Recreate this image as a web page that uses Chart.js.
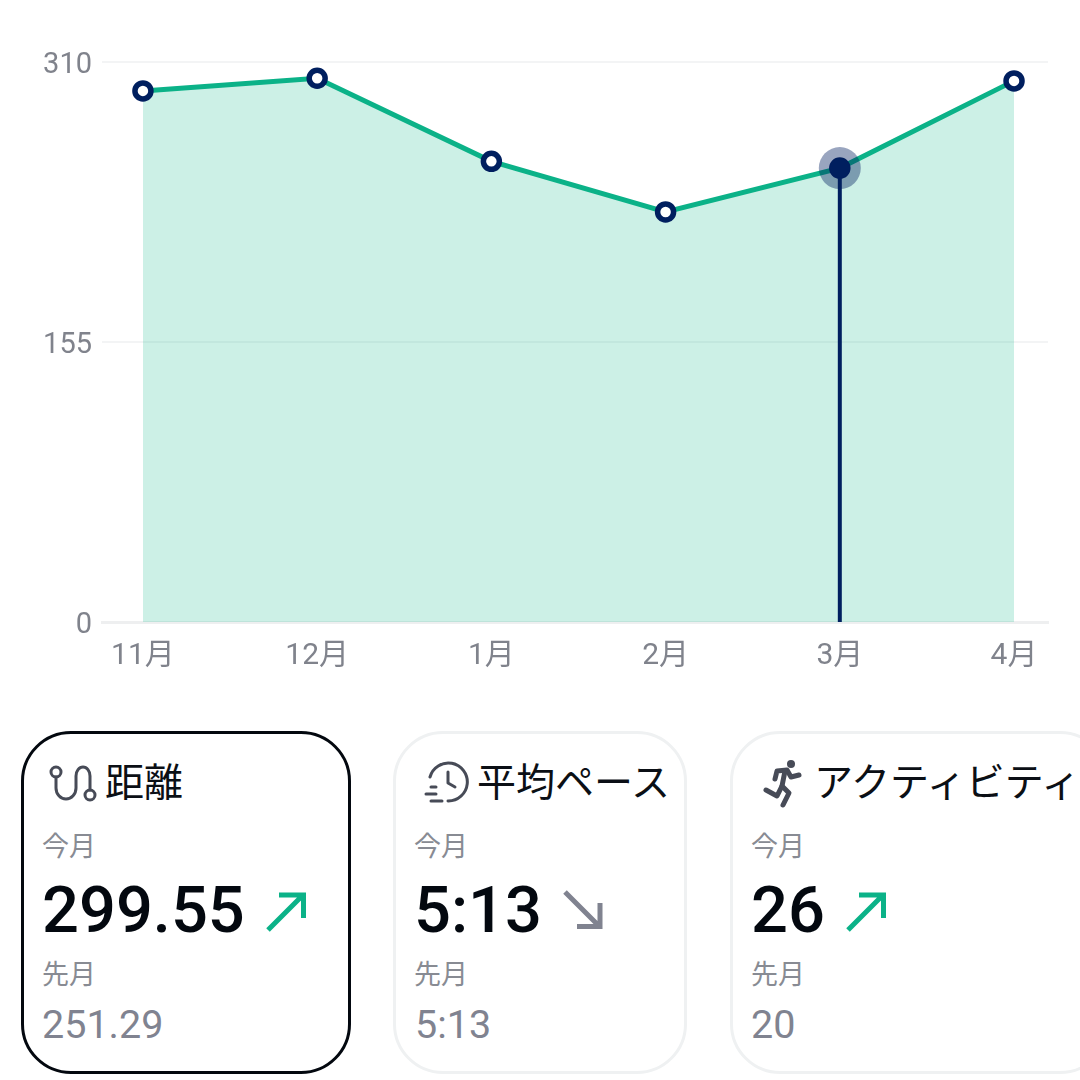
<!DOCTYPE html>
<html lang="ja">
<head>
<meta charset="utf-8">
<title>距離</title>
<script src="https://cdn.jsdelivr.net/npm/chart.js@4/dist/chart.umd.min.js"></script>
<style>
    html, body { margin: 0; width: 1080px; height: 1080px; overflow: hidden; background: #fff; }
    body { position: relative; font-family: Roboto, "Noto Sans CJK JP", sans-serif; }
    #chart-wrap { position: absolute; left: 0; top: 0; width: 1080px; height: 700px; }
    .card { position: absolute; top: 731px; height: 343px; box-sizing: border-box; border: 3px solid #eff1f2; border-radius: 50px; }
    .card.selected { border-color: #03080f; }
    .t { position: absolute; white-space: nowrap; }
    .title { font: 400 39px/50px "Noto Sans CJK JP", sans-serif; color: #0b0f15; top: 754px; }
    .label { font: 400 27px/40px "Noto Sans CJK JP", sans-serif; color: #888b93; }
    .now { font: 500 65px/76px Roboto, sans-serif; color: #03080f; top: 872px; }
    .prev { font: 400 39.5px/46px Roboto, sans-serif; color: #808390; top: 1002px; }
    svg.icons { position: absolute; left: 0; top: 0; }
</style>
</head>
<body>
<div id="chart-wrap"><canvas id="distanceChart" width="1080" height="700"></canvas></div>

<div class="card selected" style="left:21px;width:330px"></div>
<div class="card" style="left:393px;width:294px"></div>
<div class="card" style="left:730px;width:380px"></div>

<div class="t title" style="left:105px">距離</div>
<div class="t label" style="left:42px;top:825px">今月</div>
<div class="t now" style="left:42px">299.55</div>
<div class="t label" style="left:42px;top:953px">先月</div>
<div class="t prev" style="left:42px">251.29</div>

<div class="t title" style="left:477px">平均ペース</div>
<div class="t label" style="left:414px;top:825px">今月</div>
<div class="t now" style="left:414px">5:13</div>
<div class="t label" style="left:414px;top:953px">先月</div>
<div class="t prev" style="left:415px">5:13</div>

<div class="t title" style="left:814px">アクティビティ</div>
<div class="t label" style="left:751px;top:825px">今月</div>
<div class="t now" style="left:751px">26</div>
<div class="t label" style="left:751px;top:953px">先月</div>
<div class="t prev" style="left:751px">20</div>

<svg class="icons" width="1080" height="1080" fill="none" stroke-linecap="round" stroke-linejoin="round">
    <!-- route icon -->
    <g stroke="#474b57" stroke-width="3">
        <circle cx="56" cy="772" r="5"/>
        <circle cx="90" cy="795" r="5"/>
        <path d="M56 777 V788 A10 11 0 0 0 76 788 V776 A7 9 0 0 1 90 776 V790"/>
    </g>
    <!-- clock icon -->
    <g stroke="#474b57" stroke-width="3">
        <path d="M430 777 A19 19 0 1 1 448 801"/>
        <path d="M448 772 V783 L455 787"/>
        <path d="M431 787 H436 M426 794 H436 M431 801 H442"/>
    </g>
    <!-- runner icon -->
    <g stroke="#474b57" stroke-width="5">
        <circle cx="791" cy="764" r="4" fill="#474b57" stroke="none"/>
        <path d="M775 779 L777 771 L787 770 L791 777 L799 775"/>
        <path d="M785 771 L782 786 L777 796 L766 790"/>
        <path d="M782 786 L789 793 L783 805"/>
    </g>
    <!-- trend arrows -->
    <g stroke-width="5" stroke-linecap="butt" stroke-linejoin="miter">
        <path stroke="#0bb288" d="M268 930 L302 896 M279 895 H303.5 V918"/>
        <path stroke="#808390" d="M565 892 L598 925 M600 903 V926.5 H577"/>
        <path stroke="#0bb288" d="M848 930 L882 896 M859 895 H883.5 V918"/>
    </g>
</svg>

<script>
const MONTHS = ['11月', '12月', '1月', '2月', '3月', '4月'];
const DISTANCE = [294, 301, 255, 227, 251.29, 299.55];
const Y_TICK_STEP = 155;
const Y_MAX = 310;
const SELECTED_INDEX = 4;

const GREEN = '#0bb288';
const NAVY = '#001f5f';
const TICK_COLOR = '#80838c';
const FONT_FAMILY = 'Roboto, "Noto Sans CJK JP", sans-serif';

const distancePoints = DISTANCE.map((v, i) => ({ x: i, y: v }));
const selectedPoint = distancePoints[SELECTED_INDEX];

new Chart(document.getElementById('distanceChart').getContext('2d'), {
    type: 'line',
    data: {
        datasets: [
            // selected month: solid dot on top
            {
                data: [selectedPoint],
                pointRadius: 10,
                pointBackgroundColor: NAVY,
                pointBorderWidth: 0,
                showLine: false
            },
            // drop line from the selected month to the axis
            {
                data: [{ x: selectedPoint.x, y: 0 }, selectedPoint],
                borderColor: NAVY,
                borderWidth: 4,
                pointRadius: 0
            },
            // translucent halo
            {
                data: [selectedPoint],
                pointRadius: 21,
                pointBackgroundColor: 'rgba(0, 31, 95, 0.4)',
                pointBorderWidth: 0,
                showLine: false
            },
            {
                data: distancePoints,
                borderColor: GREEN,
                borderWidth: 5,
                fill: 'origin',
                backgroundColor: 'rgba(0, 178, 130, 0.2)',
                pointRadius: 8,
                pointBackgroundColor: '#fff',
                pointBorderColor: NAVY,
                pointBorderWidth: 5.5,
                tension: 0
            }
        ]
    },
    options: {
        responsive: false,
        animation: false,
        layout: { padding: { top: 62, right: 32 } },
        plugins: { legend: { display: false }, tooltip: { enabled: false } },
        events: [],
        scales: {
            x: {
                type: 'linear',
                min: -0.235,
                max: 5.195,
                afterFit: scale => { scale.height = 78; },
                // one tick per month, none at the padded ends
                afterBuildTicks: scale => {
                    scale.ticks = MONTHS.map((m, i) => ({ value: i }));
                },
                grid: { display: false },
                border: { color: '#eeeff0', width: 3 },
                ticks: {
                    autoSkip: false,
                    maxRotation: 0,
                    padding: 8,
                    color: TICK_COLOR,
                    font: { family: FONT_FAMILY, size: 30 },
                    callback: value => MONTHS[value]
                }
            },
            y: {
                min: 0,
                max: Y_MAX,
                afterFit: scale => { scale.width = 102; },
                grid: { color: '#f3f4f5', lineWidth: 2, drawTicks: false },
                border: { display: false },
                ticks: {
                    stepSize: Y_TICK_STEP,
                    padding: 10,
                    color: TICK_COLOR,
                    // blank first line nudges the label below the grid line
                    font: { family: FONT_FAMILY, size: 29, lineHeight: 0.28 },
                    callback: value => ['', String(value)]
                }
            }
        }
    }
});
</script>
</body>
</html>
